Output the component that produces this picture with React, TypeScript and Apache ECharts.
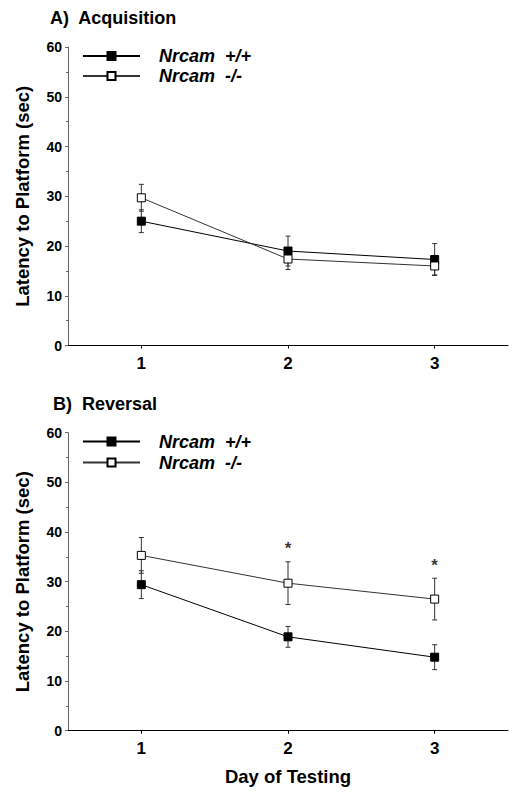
import React, { useEffect, useRef } from "react";
import * as echarts from "echarts";

const days = ["1", "2", "3"];
const nameWT = "Nrcam  +/+";
const nameKO = "Nrcam  -/-";
const acqWT = [25.0, 19.0, 17.3];
const acqWTsem = [2.3, 3.0, 3.2];
const acqKO = [29.7, 17.4, 16.0];
const acqKOsem = [2.7, 2.1, 1.8];
const revWT = [29.4, 18.9, 14.8];
const revWTsem = [2.8, 2.1, 2.5];
const revKO = [35.3, 29.7, 26.5];
const revKOsem = [3.6, 4.3, 4.2];
const revSig = [false, true, true];
const panelTitles = ["A)  Acquisition", "B)  Reversal"];
const yName = "Latency to Platform (sec)";
const xName = "Day of Testing";

const FONT = "'Liberation Sans', Arial, Helvetica, sans-serif";

function errData(mean: number[], sem: number[]) {
  return mean.map((m, i) => [i, m - sem[i], m + sem[i]]);
}

function errSeries(idx: number, mean: number[], sem: number[]) {
  return {
    type: "custom",
    xAxisIndex: idx,
    yAxisIndex: idx,
    z: 1,
    silent: true,
    encode: { x: 0, y: [1, 2] },
    data: errData(mean, sem),
    renderItem: (params: any, api: any) => {
      const x = api.value(0);
      const lo = api.value(1);
      const hi = api.value(2);
      const t = api.coord([x, hi]);
      const b = api.coord([x, lo]);
      const w = 2.5;
      const st = { stroke: "#333", lineWidth: 1 };
      return {
        type: "group",
        children: [
          { type: "line", shape: { x1: t[0], y1: t[1], x2: b[0], y2: b[1] }, style: st },
          { type: "line", shape: { x1: t[0] - w, y1: t[1], x2: t[0] + w, y2: t[1] }, style: st },
          { type: "line", shape: { x1: b[0] - w, y1: b[1], x2: b[0] + w, y2: b[1] }, style: st },
        ],
      };
    },
  };
}

function lineSeries(idx: number, name: string, data: number[], filled: boolean) {
  return {
    type: "line",
    name,
    xAxisIndex: idx,
    yAxisIndex: idx,
    z: 3,
    data,
    symbol: "rect",
    symbolSize: 8,
    lineStyle: { color: filled ? "#000" : "#333", width: 1 },
    itemStyle: filled
      ? { color: "#000", borderColor: "#000", borderWidth: 1 }
      : { color: "#fff", borderColor: "#000", borderWidth: 1 },
  };
}

export default function App() {
  const ref = useRef<HTMLDivElement>(null);
  useEffect(() => {
    if (!ref.current) return;
    const chart = echarts.init(ref.current, null, { renderer: "svg" });
    const grids = [
      { left: 68, top: 47, width: 440, height: 298.6 },
      { left: 68, top: 432.7, width: 440, height: 298 },
    ];
    const xAxes = grids.map((_, i) => ({
      type: "category",
      gridIndex: i,
      data: days,
      boundaryGap: true,
      axisLine: { show: true, lineStyle: { color: "#000", width: 1 } },
      axisTick: { show: true, alignWithLabel: true, length: 3, lineStyle: { color: "#000" } },
      axisLabel: { fontSize: 17, fontWeight: "bold", color: "#000", fontFamily: FONT, margin: 9 },
      splitLine: { show: false },
      name: i === 1 ? xName : "",
      nameLocation: "middle",
      nameGap: 36,
      nameTextStyle: { fontSize: 18.5, fontWeight: "bold", color: "#000", fontFamily: FONT },
    }));
    const yAxes = grids.map((_, i) => ({
      type: "value",
      gridIndex: i,
      min: 0,
      max: 60,
      interval: 10,
      axisLine: { show: true, lineStyle: { color: "#666", width: 1 } },
      axisTick: { show: true, inside: false, length: 3, lineStyle: { color: "#666" } },
      minorTick: { show: true, splitNumber: 2, length: 2, lineStyle: { color: "#666" } },
      splitLine: { show: false },
      axisLabel: { fontSize: 14, fontWeight: "bold", color: "#000", fontFamily: FONT, margin: 6 },
      name: yName,
      nameLocation: "middle",
      nameGap: 36,
      nameRotate: 90,
      nameTextStyle: { fontSize: 18.5, fontWeight: "bold", color: "#000", fontFamily: FONT },
    }));
    const legendTops = [46, 431];
    const legendLH = [20, 21];
    const sigData = revSig
      .map((s, i) => (s ? [i, revKO[i] + revKOsem[i]] : null))
      .filter((d) => d !== null);
    chart.setOption({
      animation: false,
      backgroundColor: "#fff",
      title: panelTitles.map((t, i) => ({
        text: t,
        left: i === 0 ? 50 : 53,
        top: i === 0 ? 9 : 395,
        padding: 0,
        textStyle: { fontSize: 18, fontWeight: "bold", color: "#000", fontFamily: FONT },
      })),
      grid: grids,
      xAxis: xAxes,
      yAxis: yAxes,
      legend: legendTops.map((top, i) => ({
        left: 82,
        top,
        orient: "vertical",
        padding: 0,
        itemWidth: 57,
        itemHeight: 10,
        itemGap: 0,
        selectedMode: false,
        data: [nameWT, nameKO],
        textStyle: {
          fontSize: 18,
          fontWeight: "bold",
          fontStyle: "italic",
          color: "#000",
          fontFamily: FONT,
          lineHeight: legendLH[i],
          padding: [0, 0, 0, 14],
        },
      })),
      series: [
        errSeries(0, acqWT, acqWTsem),
        errSeries(0, acqKO, acqKOsem),
        lineSeries(0, nameWT, acqWT, true),
        lineSeries(0, nameKO, acqKO, false),
        errSeries(1, revWT, revWTsem),
        errSeries(1, revKO, revKOsem),
        lineSeries(1, nameWT, revWT, true),
        lineSeries(1, nameKO, revKO, false),
        {
          type: "scatter",
          xAxisIndex: 1,
          yAxisIndex: 1,
          symbolSize: 1,
          itemStyle: { color: "rgba(0,0,0,0)" },
          silent: true,
          data: sigData,
          label: {
            show: true,
            formatter: "*",
            position: "top",
            distance: 4,
            fontSize: 17,
            fontWeight: "bold",
            color: "#000",
            fontFamily: FONT,
          },
        },
      ],
    });
    return () => chart.dispose();
  }, []);
  return (
    <div
      ref={ref}
      style={{ position: "fixed", left: 0, top: 0, width: 521, height: 798, background: "#fff" }}
    />
  );
}
